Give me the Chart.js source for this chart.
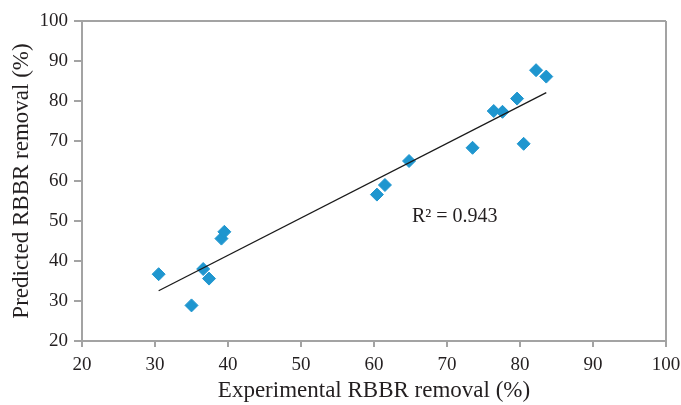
<!DOCTYPE html>
<html>
<head>
<meta charset="utf-8">
<script src="https://cdn.jsdelivr.net/npm/chart.js@4/dist/chart.umd.min.js"></script>
<style>
  html, body { margin: 0; padding: 0; background: #fff; }
  #wrap { width: 681px; height: 405px; }
</style>
</head>
<body>
<div id="wrap"><canvas id="scatter"></canvas></div>
<script>
// experimental vs predicted RBBR removal (%)
var experimental = [30.5, 35.0, 36.6, 37.4, 39.1, 39.5, 60.4, 61.5, 64.8, 73.5, 76.4, 77.6, 79.6, 80.5, 82.2, 83.6];
var predicted = [36.7, 28.9, 38.0, 35.6, 45.6, 47.3, 56.6, 59.0, 65.0, 68.3, 77.5, 77.3, 80.6, 69.3, 87.7, 86.1];
var axisTicks = [20, 30, 40, 50, 60, 70, 80, 90, 100];
var rSquared = "R² = 0.943";

var points = experimental.map(function (x, i) { return {x: x, y: predicted[i]}; });

// least squares trendline over the data range
var n = experimental.length;
var mx = experimental.reduce(function (a, b) { return a + b; }, 0) / n;
var my = predicted.reduce(function (a, b) { return a + b; }, 0) / n;
var sxy = 0, sxx = 0;
for (var i = 0; i < n; i++) {
  sxy += (experimental[i] - mx) * (predicted[i] - my);
  sxx += (experimental[i] - mx) * (experimental[i] - mx);
}
var slope = sxy / sxx;
var intercept = my - slope * mx;
var xMin = Math.min.apply(null, experimental);
var xMax = Math.max.apply(null, experimental);
var trend = [
  {x: xMin, y: intercept + slope * xMin},
  {x: xMax, y: intercept + slope * xMax}
];

var serif = "'Liberation Serif', 'Times New Roman', serif";
var textColor = '#231f20';
var axisGray = '#a3a3a3';

var r2Label = {
  id: 'r2Label',
  afterDatasetsDraw: function (chart) {
    var ctx = chart.ctx;
    var xs = chart.scales.x, ys = chart.scales.y;
    ctx.save();
    ctx.font = '20px ' + serif;
    ctx.fillStyle = textColor;
    ctx.textAlign = 'left';
    ctx.textBaseline = 'middle';
    ctx.fillText(rSquared, xs.getPixelForValue(65.2), ys.getPixelForValue(51.1));
    ctx.restore();
  }
};

function edgeColor(ctx) {
  return ctx.tick && ctx.tick.value === 100 ? axisGray : 'rgba(0,0,0,0)';
}

var ctx1 = document.getElementById('scatter');
var chart1 = new Chart(ctx1, {
  type: 'scatter',
  data: {
    datasets: [{
      type: 'line',
      data: trend,
      borderColor: '#1a1a1a',
      borderWidth: 1.3,
      pointRadius: 0,
      fill: false
    }, {
      data: points,
      pointStyle: 'rectRot',
      pointRadius: 6.5,
      pointHoverRadius: 6.5,
      backgroundColor: '#1f96cf',
      borderColor: '#1f96cf',
      borderWidth: 1
    }]
  },
  options: {
    responsive: true,
    maintainAspectRatio: false,
    animation: false,
    layout: { padding: { top: 21, right: 15, left: 0, bottom: 0 } },
    plugins: { legend: { display: false }, tooltip: { enabled: false } },
    scales: {
      x: {
        type: 'linear',
        min: 20, max: 100,
        afterBuildTicks: function (s) { s.ticks = axisTicks.map(function (v) { return {value: v}; }); },
        afterFit: function (s) { s.height = 64; s.paddingLeft = 0; s.paddingRight = 0; },
        ticks: { color: textColor, font: { family: serif, size: 19 }, padding: 7 },
        grid: { color: edgeColor, lineWidth: 2, tickColor: axisGray, tickLength: 6, tickWidth: 2 },
        border: { color: axisGray, width: 2 },
        title: {
          display: true,
          text: 'Experimental RBBR removal (%)',
          color: textColor,
          font: { family: serif, size: 23 },
          padding: { top: 0, bottom: 0 }
        }
      },
      y: {
        type: 'linear',
        min: 20, max: 100,
        afterBuildTicks: function (s) { s.ticks = axisTicks.map(function (v) { return {value: v}; }); },
        afterFit: function (s) { s.width = 82; },
        ticks: { color: textColor, font: { family: serif, size: 19 }, padding: 6 },
        grid: { color: edgeColor, lineWidth: 2, tickColor: axisGray, tickLength: 8, tickWidth: 2 },
        border: { color: axisGray, width: 2 },
        title: {
          display: true,
          text: 'Predicted RBBR removal (%)',
          color: textColor,
          font: { family: serif, size: 23 },
          padding: { top: 8, bottom: 0 }
        }
      }
    }
  },
  plugins: [r2Label]
});
</script>
</body>
</html>
